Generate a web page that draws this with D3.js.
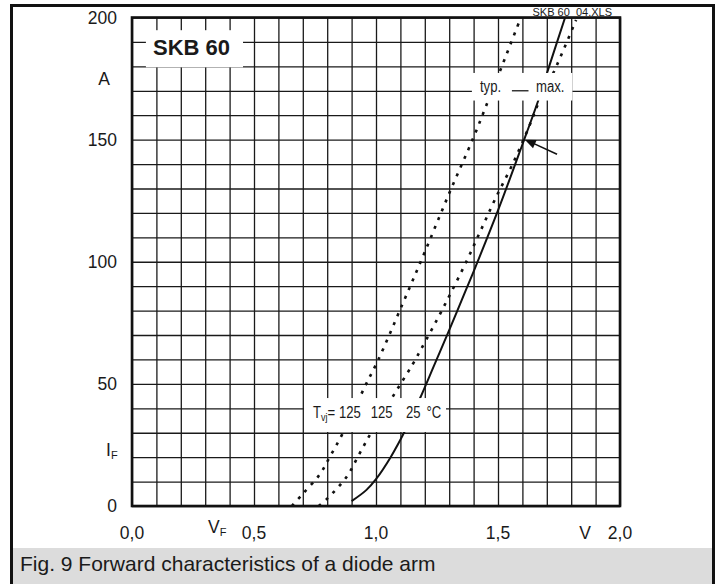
<!DOCTYPE html>
<html>
<head>
<meta charset="utf-8">
<script src="https://cdn.jsdelivr.net/npm/d3@7"></script>
<style>
  body { margin: 0; background: #fff; }
  text { font-family: "Liberation Sans", Arial, Helvetica, sans-serif; fill: #1a1a1a; }
</style>
</head>
<body>
<svg id="chart"></svg>
<script>
// axis ticks (labels use decimal comma like the datasheet)
const vfTicks = [0, 0.5, 1.0, 1.5, 2.0];
const vfLabels = ["0,0", "0,5", "1,0", "1,5", "2,0"];
const ifTicks = [0, 50, 100, 150, 200];
const ifLabels = ["0", "50", "100", "150", "200"];

// curves: [VF (V), IF (A)]
const typ125 = [[0.655, 0], [0.70, 5], [0.77, 13], [0.81, 20], [0.865, 30], [0.955, 49],
    [1.01, 60], [1.11, 83], [1.20, 104], [1.30, 128], [1.40, 151], [1.46, 166], [1.50, 176], [1.59, 199]];
const max125 = [[0.765, 0], [0.80, 3], [0.88, 12], [0.93, 21], [0.98, 30], [1.07, 45], [1.15, 58],
    [1.20, 67], [1.28, 82], [1.37, 100], [1.43, 113], [1.49, 126], [1.56, 140], [1.63, 156],
    [1.67, 166], [1.73, 178], [1.82, 199]];
const max25 = [[0.90, 2], [0.96, 6.5], [1.00, 11], [1.06, 20], [1.12, 31], [1.18, 44], [1.24, 58],
    [1.30, 72], [1.35, 84], [1.40, 96], [1.50, 121], [1.60, 148], [1.665, 166], [1.70, 177], [1.775, 200]];

const width = 716, height = 584;
const svg = d3.select("#chart").attr("width", width).attr("height", height);

let x = d3.scaleLinear().domain([0, 2]).range([132, 620]);
let y = d3.scaleLinear().domain([0, 200]).range([506, 17.5]);

// outer frame + caption band
svg.append("rect")
    .attr("x", 13).attr("y", 548).attr("width", 699).attr("height", 40)
    .attr("fill", "#dcdcdc");
svg.append("rect")
    .attr("x", 11.5).attr("y", 5.5).attr("width", 702).attr("height", 600)
    .attr("fill", "none").attr("stroke", "#111").attr("stroke-width", 3);
svg.append("text")
    .attr("x", 20).attr("y", 571)
    .attr("font-size", "21px")
    .text("Fig. 9 Forward characteristics of a diode arm");

// grid (0.1 V / 10 A)
const plotH = y(0) - y(200), plotW = x(2) - x(0);
const gx = svg.append("g")
    .attr("transform", `translate(0,${y(0)})`)
    .call(d3.axisBottom(x).ticks(20).tickSize(-plotH).tickFormat(""));
const gy = svg.append("g")
    .attr("transform", `translate(${x(0)},0)`)
    .call(d3.axisLeft(y).ticks(20).tickSize(-plotW).tickFormat(""));
[gx, gy].forEach(g => {
    g.select(".domain").remove();
    g.selectAll("line").attr("stroke", "#1a1a1a").attr("stroke-width", 1.3);
});

// curves
const line = d3.line()
    .x(d => x(d[0]))
    .y(d => y(d[1]))
    .curve(d3.curveCatmullRom.alpha(0.5));

svg.append("path").datum(typ125)
    .attr("d", line).attr("fill", "none")
    .attr("stroke", "#111").attr("stroke-width", 2.6).attr("stroke-dasharray", "3,6.5");
svg.append("path").datum(max125)
    .attr("d", line).attr("fill", "none")
    .attr("stroke", "#111").attr("stroke-width", 2.6).attr("stroke-dasharray", "3,6.5");
svg.append("path").datum(max25)
    .attr("d", line).attr("fill", "none")
    .attr("stroke", "#111").attr("stroke-width", 2);

// plot border
svg.append("rect")
    .attr("x", x(0)).attr("y", y(200)).attr("width", plotW).attr("height", plotH)
    .attr("fill", "none").attr("stroke", "#111").attr("stroke-width", 2.6);

// white label boxes over grid
function whiteBox(v0, v1, i0, i1) {
    svg.append("rect")
        .attr("x", x(v0)).attr("y", y(i1))
        .attr("width", x(v1) - x(v0)).attr("height", y(i0) - y(i1))
        .attr("fill", "#fff");
}
whiteBox(0.057, 0.455, 179.6, 194.8);   // SKB 60
whiteBox(1.393, 1.805, 166, 177.3);     // typ. / max.
whiteBox(0.705, 1.287, 30.3, 44.2);     // Tvj

// condensed text helper
function narrow(v, i, str, size, sx) {
    const g = svg.append("g")
        .attr("transform", `translate(${x(v)},${y(i)}) scale(${sx || 0.82},1)`);
    return g.append("text").attr("font-size", size + "px").text(str);
}

svg.append("text")
    .attr("x", x(0.086)).attr("y", y(184.5))
    .attr("font-size", "22px").attr("font-weight", "bold")
    .text("SKB 60");

narrow(1.426, 169.5, "typ.", 16);
narrow(1.656, 169.5, "max.", 16);
svg.append("line")
    .attr("x1", x(1.557)).attr("x2", x(1.625))
    .attr("y1", y(170)).attr("y2", y(170))
    .attr("stroke", "#1a1a1a").attr("stroke-width", 1.3);

// Tvj labels
const tv = narrow(0.742, 36, "T", 16);
tv.append("tspan").attr("font-size", "11px").attr("dy", 3).text("vj");
tv.append("tspan").attr("dy", -3).text("= 125");
narrow(0.978, 36, "125", 16);
narrow(1.123, 36, "25", 16);
narrow(1.207, 36, "°C", 16);

// arrow
const tip = [x(1.61), y(150)], tail = [x(1.742), y(144)];
svg.append("line")
    .attr("x1", tail[0]).attr("y1", tail[1]).attr("x2", tip[0] + 8).attr("y2", tip[1] + 3.5)
    .attr("stroke", "#111").attr("stroke-width", 1.6);
{
    const ang = Math.atan2(tail[1] - tip[1], tail[0] - tip[0]);
    const L = 11, W = 4.5;
    const bx = tip[0] + L * Math.cos(ang), by = tip[1] + L * Math.sin(ang);
    const px = -Math.sin(ang) * W, py = Math.cos(ang) * W;
    svg.append("path")
        .attr("d", `M${tip[0]},${tip[1]}L${bx + px},${by + py}L${bx - px},${by - py}Z`)
        .attr("fill", "#111");
}

// file tag
svg.append("text")
    .attr("x", 612).attr("y", 15.5)
    .attr("text-anchor", "end").attr("font-size", "11px").attr("fill", "#333")
    .text("SKB 60_04.XLS");

// tick labels
svg.append("g").selectAll("text")
    .data(ifTicks)
    .join("text")
    .attr("x", 117)
    .attr("y", d => y(d) + 6)
    .attr("text-anchor", "end")
    .attr("font-size", "17.5px")
    .text((d, i) => ifLabels[i]);

svg.append("g").selectAll("text")
    .data(vfTicks)
    .join("text")
    .attr("x", d => x(d))
    .attr("y", 538.5)
    .attr("text-anchor", "middle")
    .attr("font-size", "17.5px")
    .text((d, i) => vfLabels[i]);

// axis names
svg.append("text").attr("x", 104).attr("y", 85)
    .attr("text-anchor", "middle").attr("font-size", "17.5px").text("A");
const iF = svg.append("text").attr("x", 106).attr("y", 456).attr("font-size", "17.5px").text("I");
iF.append("tspan").attr("font-size", "11px").attr("dy", 3).text("F");

svg.append("text").attr("x", 585).attr("y", 539)
    .attr("text-anchor", "middle").attr("font-size", "17.5px").text("V");
const vF = svg.append("text").attr("x", 208).attr("y", 533).attr("font-size", "17.5px").text("V");
vF.append("tspan").attr("font-size", "11px").attr("dy", 3).text("F");
</script>
</body>
</html>
